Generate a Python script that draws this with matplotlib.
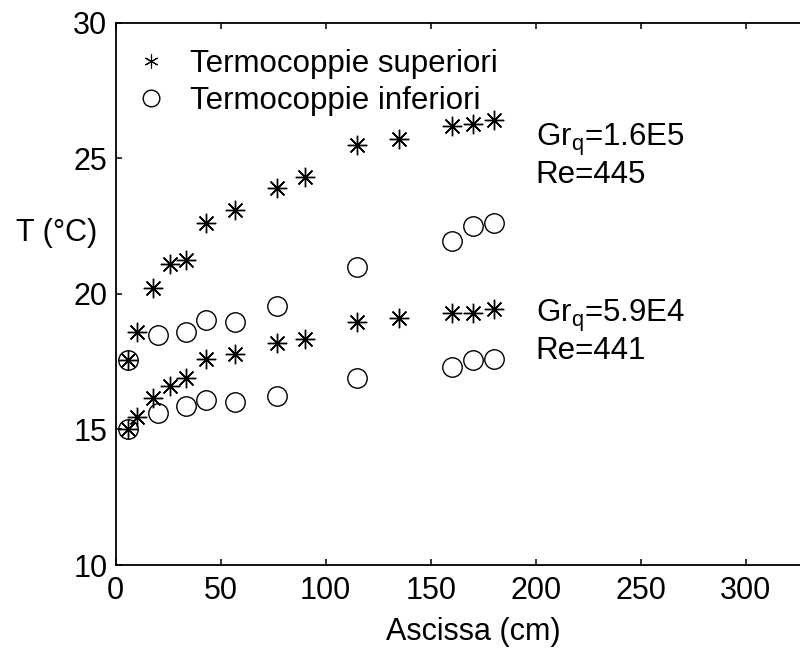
import numpy as np
import matplotlib.pyplot as plt
from matplotlib.lines import Line2D

plt.rcParams['font.family'] = ['Liberation Sans', 'DejaVu Sans']
plt.rcParams['mathtext.default'] = 'regular'

# Gr_q = 1.6E5, Re = 445
x_sup_hi = [6, 10, 18, 26, 33.5, 43, 57, 77, 90, 115, 135, 160, 170, 180]
t_sup_hi = [17.55, 18.6, 20.2, 21.1, 21.25, 22.6, 23.1, 23.9, 24.3, 25.5, 25.7, 26.2, 26.25, 26.4]
x_inf_hi = [6, 20, 33.5, 43, 57, 77, 115, 160, 170, 180]
t_inf_hi = [17.55, 18.5, 18.6, 19.05, 18.95, 19.55, 21.0, 21.95, 22.5, 22.6]

# Gr_q = 5.9E4, Re = 441
x_sup_lo = [6, 10, 18, 26, 33.5, 43, 57, 77, 90, 115, 135, 160, 170, 180]
t_sup_lo = [15.0, 15.45, 16.15, 16.6, 16.9, 17.6, 17.8, 18.2, 18.35, 18.95, 19.1, 19.3, 19.3, 19.45]
x_inf_lo = [6, 20, 33.5, 43, 57, 77, 115, 160, 170, 180]
t_inf_lo = [15.0, 15.6, 15.85, 16.1, 16.0, 16.25, 16.9, 17.3, 17.55, 17.6]

labels = ["Termocoppie superiori", "Termocoppie inferiori"]
notes = [(200, 25.45, "Gr$_q$=1.6E5"), (200, 24.1, "Re=445"),
         (200, 18.95, "Gr$_q$=5.9E4"), (200, 17.6, "Re=441")]

fig = plt.figure(figsize=(8, 6.51), dpi=100)
ax = fig.add_axes([0.1446, 0.1321, 0.9188, 0.833])

star = (8, 2, 0)
kw = dict(linestyle='none', color='black', markersize=14, markeredgewidth=1.0)
ax.plot(x_sup_hi, t_sup_hi, marker=star, **kw)
ax.plot(x_inf_hi, t_inf_hi, marker='o', markerfacecolor='none', **kw)
ax.plot(x_sup_lo, t_sup_lo, marker=star, **kw)
ax.plot(x_inf_lo, t_inf_lo, marker='o', markerfacecolor='none', **kw)

for x, y, s in notes:
    ax.text(x, y, s, fontsize=22.5, va='baseline', ha='left')

ax.set_xlim(0, 350)
ax.set_ylim(10, 30)
ax.set_xticks([0, 50, 100, 150, 200, 250, 300])
ax.set_yticks([10, 15, 20, 25, 30])
ax.tick_params(direction='in', length=4.5, width=1.1, labelsize=22, top=True, right=True)
ax.tick_params(axis='x', pad=8)
ax.tick_params(axis='y', pad=6)
for sp in ax.spines.values():
    sp.set_linewidth(1.3)

ax.set_xlabel("Ascissa (cm)", fontsize=22)
ax.xaxis.set_label_coords(0.486, -0.1235)
ax.xaxis.label.set_va('center')
ax.set_ylabel("T (°C)", fontsize=22, rotation=0, ha='right', va='center')
ax.yaxis.set_label_coords(-0.0254, 0.612)

handles = [Line2D([], [], linestyle='none', color='black', marker=(6, 2, 0),
                  markersize=10, markeredgewidth=0.8),
           Line2D([], [], linestyle='none', color='black', marker='o',
                  markerfacecolor='none', markersize=12, markeredgewidth=1.0)]
ax.legend(handles, labels, loc='upper left', bbox_to_anchor=(0.0093, 0.975), frameon=False,
          fontsize=22.5, handlelength=1.0, handletextpad=0.75, labelspacing=0.22,
          borderaxespad=0)

fig.savefig("out.png", dpi=100)
